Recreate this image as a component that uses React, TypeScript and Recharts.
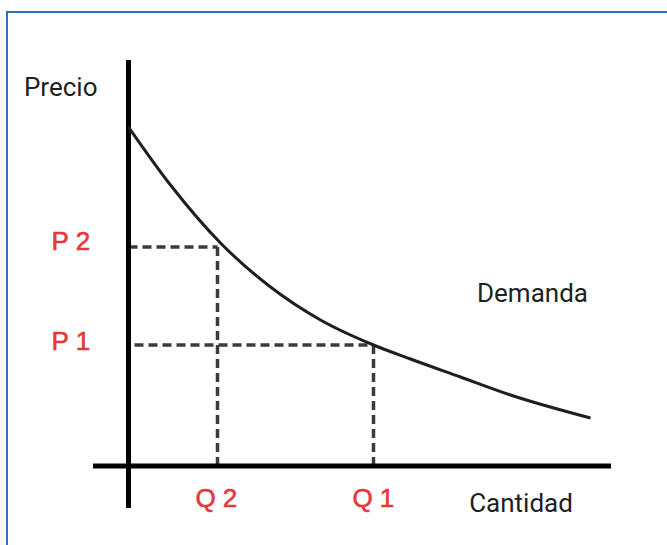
import { LineChart, Line, XAxis, YAxis, ReferenceLine, LabelList, Label } from 'recharts';

// demand curve (1 unit = 10px from the origin)
const curveQ = [0, 4.2, 9.2, 14.2, 19.2, 24.5, 28.2, 33.2, 38.2, 46.2];
const curveP = [33.9, 28.1, 22.3, 17.9, 14.6, 12.1, 10.7, 8.9, 7.1, 4.8];

const q2 = 8.9;
const p2 = 21.9;
const q1 = 24.5;
const p1 = 12.1;

const xDomain = [-3.55, 48.25];
const yDomain = [-4.2, 40.6];

const data = curveQ.map((q, i) => ({ q, p: curveP[i] }));

const RED = '#e5383b';
const DARK = '#1f1f1f';
const DASH = '#3c3c3c';

const textAt =
  (value: string, dx: number, dy: number, opts: { anchor?: string; fromRight?: boolean } = {}) =>
  (props: any) => {
    const vb = props.viewBox || {};
    const x = (opts.fromRight ? vb.x + (vb.width || 0) : vb.x) + dx;
    const y = vb.y + dy;
    return (
      <text
        x={x}
        y={y}
        textAnchor={opts.anchor || 'start'}
        fill={DARK}
        fontFamily="Roboto, 'Liberation Sans', sans-serif"
        fontSize={26}
      >
        {value}
      </text>
    );
  };

const redText = (value: string, dx: number, dy: number, fromBottom = false) => (props: any) => {
  const vb = props.viewBox || {};
  const x = vb.x + dx;
  const y = (fromBottom ? vb.y + (vb.height || 0) : vb.y) + dy;
  return (
    <text
      x={x}
      y={y}
      fill={RED}
      stroke={RED}
      strokeWidth={0.6}
      fontFamily="'Liberation Sans', Arial, sans-serif"
      fontSize={26}
      letterSpacing={7}
    >
      {value}
    </text>
  );
};

export default function App() {
  return (
    <div style={{ position: 'fixed', left: 0, top: 0, width: 667, height: 545, overflow: 'hidden', background: '#fff' }}>
      <div
        style={{
          position: 'absolute',
          left: 6,
          top: 11,
          width: 700,
          height: 600,
          border: '2px solid #2f75b5',
        }}
      />
      <div style={{ position: 'absolute', left: 0, top: 0 }}>
        <LineChart width={667} height={545} data={data} margin={{ top: 60, right: 56, bottom: 37, left: 93 }}>
          <XAxis dataKey="q" type="number" domain={xDomain} allowDataOverflow hide />
          <YAxis type="number" domain={yDomain} allowDataOverflow hide />

          <ReferenceLine
            segment={[{ x: 0, y: p2 }, { x: q2, y: p2 }]}
            stroke={DASH}
            strokeWidth={3.5}
            strokeDasharray="9 5"
          >
            <Label content={redText('P2', -77, 3)} />
          </ReferenceLine>
          <ReferenceLine
            segment={[{ x: q2, y: p2 }, { x: q2, y: 0 }]}
            stroke={DASH}
            strokeWidth={3.5}
            strokeDasharray="9 5"
          >
            <Label content={redText('Q2', -22, 41, true)} />
          </ReferenceLine>
          <ReferenceLine
            segment={[{ x: 0.6, y: p1 }, { x: q1, y: p1 }]}
            stroke={DASH}
            strokeWidth={3.5}
            strokeDasharray="9 5"
          >
            <Label content={redText('P1', -83, 5)} />
          </ReferenceLine>
          <ReferenceLine
            segment={[{ x: q1, y: p1 }, { x: q1, y: 0 }]}
            stroke={DASH}
            strokeWidth={3.5}
            strokeDasharray="9 5"
          >
            <Label content={redText('Q1', -21, 41, true)} />
          </ReferenceLine>

          <ReferenceLine x={0} stroke="#000" strokeWidth={5}>
            <Label content={textAt('Precio', -31, 36, { anchor: 'end' })} />
          </ReferenceLine>
          <ReferenceLine y={0} stroke="#000" strokeWidth={5}>
            <Label content={textAt('Cantidad', -90, 46, { anchor: 'middle', fromRight: true })} />
          </ReferenceLine>

          <Line
            dataKey="p"
            type="monotone"
            stroke={DARK}
            strokeWidth={3}
            dot={false}
            isAnimationActive={false}
          >
            <LabelList
              dataKey="p"
              content={(props: any) =>
                props.index === data.length - 1 ? (
                  <text
                    x={props.x - 58}
                    y={props.y - 116}
                    textAnchor="middle"
                    fill={DARK}
                    fontFamily="Roboto, 'Liberation Sans', sans-serif"
                    fontSize={26}
                  >
                    Demanda
                  </text>
                ) : null
              }
            />
          </Line>
        </LineChart>
      </div>
    </div>
  );
}
